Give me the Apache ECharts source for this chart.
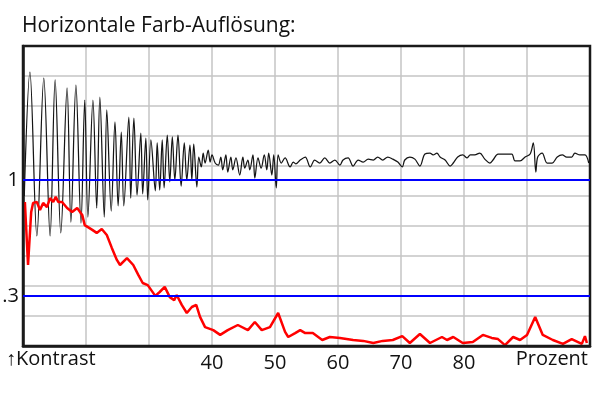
<!DOCTYPE html>
<html>
<head>
<meta charset="utf-8">
<script src="https://cdn.jsdelivr.net/npm/echarts@6/dist/echarts.min.js"></script>
<style>
  html, body { margin: 0; padding: 0; background: #fff; }
  #chart { width: 600px; height: 398px; }
</style>
</head>
<body>
<div id="chart"></div>
<script>
// x = Prozent, y = Rasterteile (0..10)
const xLabels = [40, 50, 60, 70, 80]
const refLines = [
  { value: 5.53, label: '1' },
  { value: 1.67, label: '.3' }
]

const lumaCurve = [
  [10.2, 5.0], [11.1, 9.13], [12.2, 3.67], [13.3, 8.93], [14.3, 3.67], [15.1, 8.87], [16.0, 3.77], [17.0, 8.6],
  [17.6, 4.13], [18.4, 8.7], [19.2, 4.1], [19.8, 8.2], [20.3, 4.3], [21.1, 8.2], [21.7, 4.6], [22.2, 8.3],
  [22.9, 4.3], [23.3, 7.87], [24.0, 4.5], [24.6, 7.47], [25.1, 4.67], [25.6, 7.13], [26.0, 4.67], [26.8, 7.63],
  [27.1, 4.93], [27.6, 7.6], [28.1, 5.03], [28.7, 7.1], [29.0, 5.07], [29.5, 6.93], [29.8, 4.87], [30.3, 6.87],
  [31.0, 5.17], [31.3, 6.77], [31.7, 5.2], [32.1, 6.87], [32.4, 5.27], [32.9, 7.03], [33.3, 5.47], [33.7, 6.97],
  [34.1, 5.53], [34.6, 7.03], [35.1, 5.33], [35.6, 6.77], [36.0, 5.53], [36.5, 6.7], [36.8, 5.53], [37.1, 6.73],
  [37.6, 5.3], [37.9, 6.3], [38.3, 5.97], [38.6, 6.43], [38.9, 6.1], [39.4, 6.53], [39.7, 6.13], [40.0, 6.37],
  [40.5, 6.1], [41.0, 6.03], [41.4, 6.3], [41.7, 5.87], [42.2, 6.37], [42.5, 5.8], [43.0, 6.3], [43.3, 5.87],
  [43.8, 6.27], [44.4, 5.7], [44.9, 6.3], [45.2, 5.93], [45.7, 6.2], [46.0, 5.87], [46.5, 6.37], [46.8, 5.6],
  [47.3, 6.27], [47.8, 5.93], [48.3, 6.37], [48.7, 5.87], [49.0, 6.43], [49.5, 5.7], [49.8, 6.37], [50.2, 5.27],
  [50.5, 6.37], [51.0, 6.1], [51.6, 6.27], [52.4, 5.97], [52.9, 6.13], [53.3, 6.07], [54.0, 6.2], [54.8, 6.3],
  [55.6, 5.97], [56.3, 6.2], [57.1, 6.1], [57.9, 6.27], [58.7, 6.1], [59.5, 6.2], [60.3, 6.03], [60.8, 6.2],
  [61.6, 6.27], [62.4, 6.0], [63.2, 6.2], [64.0, 6.13], [64.8, 6.23], [65.6, 6.2], [66.3, 6.3], [67.1, 6.2],
  [67.9, 6.3], [68.7, 6.23], [69.5, 6.13], [70.2, 5.97], [70.6, 6.2], [71.4, 6.3], [72.2, 6.23], [73.0, 6.0],
  [73.8, 6.4], [74.6, 6.43], [75.1, 6.37], [75.7, 6.43], [76.2, 6.3], [77.0, 6.2], [77.8, 6.0], [78.3, 6.1],
  [79.0, 6.3], [79.8, 6.37], [80.5, 6.27], [81.0, 6.37], [81.7, 6.37], [82.5, 6.43], [83.3, 6.23], [84.1, 6.1],
  [84.6, 6.2], [85.4, 6.4], [86.2, 6.4], [87.0, 6.4], [87.6, 6.4], [88.1, 6.17], [88.9, 6.17], [89.7, 6.3],
  [90.5, 6.4], [91.0, 6.77], [91.4, 5.8], [91.7, 6.3], [92.4, 6.43], [93.2, 6.1], [94.0, 6.1], [94.8, 6.3],
  [95.6, 6.37], [96.3, 6.3], [97.1, 6.3], [97.6, 6.43], [98.4, 6.37], [99.2, 6.37], [99.8, 6.1]
]

const colorCurve = [
  [10.3, 4.8], [10.8, 2.7], [11.3, 4.47], [11.6, 4.77], [12.2, 4.8], [12.7, 4.53], [13.2, 4.77], [13.8, 4.63],
  [14.3, 4.93], [14.8, 4.8], [15.2, 4.97], [15.6, 4.8], [16.2, 4.8], [17.0, 4.6], [17.8, 4.47], [18.6, 4.6],
  [19.4, 4.37], [19.8, 4.03], [21.0, 3.87], [21.7, 3.77], [22.5, 3.9], [23.3, 3.7], [24.1, 3.27], [24.9, 2.87],
  [25.4, 2.7], [26.5, 2.93], [27.5, 2.7], [28.3, 2.37], [29.0, 2.1], [29.8, 2.03], [31.0, 1.67], [31.7, 1.8],
  [32.5, 1.97], [33.3, 1.63], [34.0, 1.53], [34.4, 1.7], [35.2, 1.37], [36.0, 1.1], [36.8, 1.3], [37.5, 1.37],
  [38.1, 0.97], [38.9, 0.63], [40.2, 0.53], [41.3, 0.37], [42.5, 0.53], [44.1, 0.7], [45.7, 0.53], [46.8, 0.8],
  [47.9, 0.53], [49.2, 0.63], [50.5, 1.1], [51.6, 0.47], [52.1, 0.3], [53.2, 0.43], [54.0, 0.53], [54.8, 0.43],
  [56.0, 0.43], [57.5, 0.2], [58.7, 0.3], [60.3, 0.27], [62.4, 0.2], [64.0, 0.17], [65.6, 0.1], [67.1, 0.17],
  [68.7, 0.2], [70.2, 0.33], [71.4, 0.1], [73.0, 0.4], [74.6, 0.1], [76.5, 0.3], [77.3, 0.2], [78.3, 0.3],
  [79.8, 0.1], [81.4, 0.13], [83.0, 0.37], [84.4, 0.27], [85.4, 0.23], [86.5, 0.03], [87.8, 0.3], [88.9, 0.2],
  [90.0, 0.37], [91.3, 0.97], [92.5, 0.37], [94.1, 0.2], [95.7, 0.07], [97.1, 0.23], [98.1, 0.13], [98.7, 0.07],
  [99.2, 0.33], [99.5, 0.1]
]

const font = '"Open Sans", sans-serif'
const gridLine = { show: true, showMinLine: false, showMaxLine: false, lineStyle: { color: '#c4c4c4', width: 1.5 } }
const chart = echarts.init(document.getElementById('chart'))

chart.setOption({
  animation: false,
  grid: {
    left: 23,
    right: 10,
    top: 46,
    bottom: 52,
    show: true,
    borderColor: '#1a1a1a',
    borderWidth: 2.5,
    z: 5
  },
  graphic: [
    {
      type: 'text', left: 22, top: 16,
      style: { text: 'Horizontale Farb-Auflösung:', fontFamily: font, fontSize: 21, fill: '#111' }
    },
    {
      type: 'text', left: 6, top: 349,
      style: { text: '↑Kontrast', fontFamily: font, fontSize: 20, fill: '#111' }
    },
    {
      type: 'text', right: 12, top: 349,
      style: { text: 'Prozent', fontFamily: font, fontSize: 20, fill: '#111' }
    }
  ],
  xAxis: {
    type: 'value',
    min: 10,
    max: 100,
    interval: 10,
    axisLine: { show: true, lineStyle: { color: '#1a1a1a', width: 2.5 } },
    axisTick: { show: false },
    axisLabel: {
      margin: 7,
      fontFamily: font,
      fontSize: 20,
      color: '#111',
      formatter: v => xLabels.includes(v) ? String(v) : ''
    },
    splitLine: gridLine
  },
  yAxis: {
    type: 'value',
    min: 0,
    max: 10,
    interval: 1,
    axisLine: { show: true, lineStyle: { color: '#1a1a1a', width: 2.5 } },
    axisTick: { show: false },
    axisLabel: { show: false },
    splitLine: gridLine
  },
  series: [
    {
      type: 'line',
      data: lumaCurve,
      showSymbol: false,
      silent: true,
      smooth: 0.35,
      lineStyle: { color: '#151515', width: 1.25 },
      markLine: {
        silent: true,
        symbol: 'none',
        lineStyle: { color: '#0000ff', width: 2, type: 'solid' },
        label: {
          position: 'start',
          distance: 4,
          fontFamily: font,
          fontSize: 20,
          color: '#111',
          formatter: p => p.name
        },
        data: refLines.map(r => ({ yAxis: r.value, name: r.label }))
      }
    },
    {
      type: 'line',
      data: colorCurve,
      showSymbol: false,
      silent: true,
      lineStyle: { color: '#ff0000', width: 2.5 }
    }
  ]
})
</script>
</body>
</html>
